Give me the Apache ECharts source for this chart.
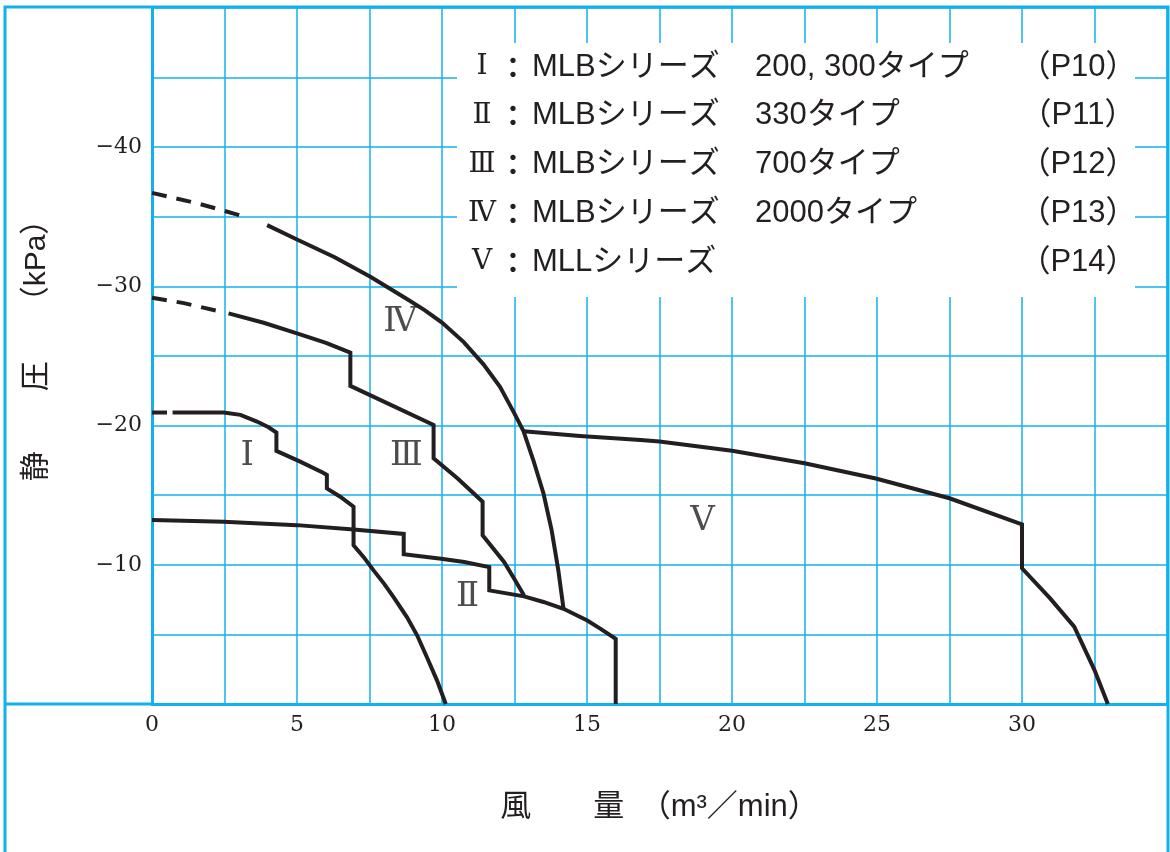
<!DOCTYPE html>
<html><head><meta charset="utf-8">
<script src="https://cdn.jsdelivr.net/npm/echarts@6/dist/echarts.min.js"></script>
<style>html,body{margin:0;padding:0;background:#fff;}#c{width:1170px;height:852px;}</style>
</head><body><div id="c"></div>
<script>
// ---- data (風量 m3/min, 静圧 kPa) ----
const xTickLabels = [0, 5, 10, 15, 20, 25, 30];
const yTickLabels = [-10, -20, -30, -40];

const curveIDashed = [[0, -20.94], [0.52, -20.94]];
const curveI = [[0.71, -20.94], [2.47, -20.94], [3.05, -20.77], [3.62, -20.29], [4.02, -19.88], [4.29, -19.5],
  [4.29, -18.18], [5.11, -17.41], [5.9, -16.61], [6.03, -16.45], [6.03, -15.49], [6.49, -14.89], [6.95, -14.17],
  [6.95, -11.4], [7.3, -10.55], [7.64, -9.6], [8.0, -8.65], [8.33, -7.68], [8.79, -6.24], [9.15, -4.9], [9.48, -3.36], [9.83, -1.68], [10.13, 0]];

const curveII = [[0, -13.21], [2.47, -13.09], [5.0, -12.85], [6.95, -12.53], [8.68, -12.22], [8.68, -10.76],
  [9.97, -10.44], [10.77, -10.2], [11.63, -9.84], [11.63, -8.16], [12.83, -7.73], [13.5, -7.33], [14.19, -6.84], [15.01, -6.0],
  [15.47, -5.4], [15.99, -4.68], [15.99, 0]];

const curveIIIDashed = [[0, -29.19], [1.1, -28.8], [2.24, -28.25]];
const curveIII = [[2.64, -28.06], [3.85, -27.39], [5.0, -26.63], [6.0, -25.95], [6.84, -25.24], [6.84, -22.85],
  [9.71, -20.05], [9.71, -17.65], [10.54, -16.2], [11.4, -14.53], [11.4, -12.12], [12.14, -10.2], [12.49, -9.0],
  [12.83, -7.8]];

const curveIVDashed = [[0, -36.72], [1.6, -35.95], [3.22, -35.0]];
const curveIV = [[3.97, -34.4], [5.0, -33.37], [6.3, -32.1], [7.53, -30.69], [8.79, -29.1], [9.4, -28.3],
  [10.0, -27.4], [10.75, -26.0], [11.43, -24.4], [12.0, -22.78], [12.5, -20.86], [12.81, -19.6], [13.15, -17.51],
  [13.5, -15.12], [13.78, -12.49], [14.01, -9.62], [14.19, -6.84]];

const curveV = [[12.81, -19.6], [14.76, -19.25], [16.85, -18.97], [17.5, -18.85], [20.0, -18.2], [22.5, -17.29],
  [24.96, -16.2], [27.5, -14.78], [30.0, -12.9], [30.0, -9.75], [30.97, -7.59], [31.8, -5.56], [32.5, -2.44], [32.96, 0]];

const curveLabels = [[3.28, -17.77, 'Ⅰ'], [10.88, -7.68, 'Ⅱ'], [8.77, -17.77, 'Ⅲ'], [8.56, -27.46, 'Ⅳ'], [18.98, -13.1, 'Ⅴ']];

const legendNumerals = ['Ⅰ', 'Ⅱ', 'Ⅲ', 'Ⅳ', 'Ⅴ'];
const legendSeriesNames = ['MLBシリーズ', 'MLBシリーズ', 'MLBシリーズ', 'MLBシリーズ', 'MLLシリーズ'];
const legendTypes = ['200, 300タイプ', '330タイプ', '700タイプ', '2000タイプ', ''];
const legendPages = ['（P10）', '（P11）', '（P12）', '（P13）', '（P14）'];

const xName = '風　　量　（m³／min）';
const yName = '静　　圧　　（kPa）';

// ---- style ----
const CYAN = '#12b0ec';
const INK = '#231f20';
const SANS = "'Liberation Sans','Noto Sans CJK JP',sans-serif";
const SERIF = "'DejaVu Serif','Liberation Serif',serif";

const chart = echarts.init(document.getElementById('c'), null, {renderer: 'canvas'});

function lineSeries(name, data, dashed) {
  return {
    name: name, type: 'line', data: data, symbol: 'none', smooth: false, z: 5,
    lineStyle: {color: INK, width: 4, type: dashed ? [15, 10] : 'solid', cap: 'butt', join: 'miter'},
    emphasis: {disabled: true}
  };
}

const legendGraphics = [];
const ly0 = 67, ldy = 48.75;
legendGraphics.push({type: 'rect', z: 10, shape: {x: 457, y: 43, width: 678, height: 254}, style: {fill: '#fff'}});
for (let i = 0; i < legendNumerals.length; i++) {
  const y = ly0 + i * ldy;
  legendGraphics.push({type: 'text', z: 11, x: 482, y: y, style: {text: legendNumerals[i], font: '28px ' + SERIF, fill: INK, align: 'center', verticalAlign: 'middle'}});
  legendGraphics.push({type: 'text', z: 11, x: 513, y: y, style: {text: '：', font: 'bold 28px ' + "'Noto Sans CJK JP'", fill: INK, align: 'center', verticalAlign: 'middle'}});
  legendGraphics.push({type: 'text', z: 11, x: 532, y: y, style: {text: legendSeriesNames[i], font: '31px ' + SANS, fill: INK, align: 'left', verticalAlign: 'middle'}});
  legendGraphics.push({type: 'text', z: 11, x: 755, y: y, style: {text: legendTypes[i], font: '31px ' + SANS, fill: INK, align: 'left', verticalAlign: 'middle'}});
  legendGraphics.push({type: 'text', z: 11, x: 1078, y: y, style: {text: legendPages[i], font: '31px ' + SANS, fill: INK, align: 'center', verticalAlign: 'middle'}});
}

const option = {
  animation: false,
  backgroundColor: '#fff',
  grid: {left: 152, right: 3, top: 8, bottom: 148, containLabel: false},
  xAxis: {
    type: 'value', min: 0, max: 35, interval: 2.5,
    name: xName, nameLocation: 'middle', nameGap: 88,
    nameTextStyle: {fontSize: 31, fontFamily: SANS, color: INK},
    axisLine: {show: true, onZero: true, lineStyle: {color: CYAN, width: 3}},
    axisTick: {show: false},
    axisLabel: {
      margin: 10, fontSize: 22, fontFamily: SERIF, color: INK,
      formatter: v => (xTickLabels.indexOf(v) >= 0 ? String(v) : '')
    },
    splitLine: {show: true, lineStyle: {color: CYAN, width: 1.5}}
  },
  yAxis: {
    type: 'value', min: -50, max: 0, interval: 5, inverse: true,
    name: yName, nameLocation: 'middle', nameGap: 100, nameRotate: 90,
    nameTextStyle: {fontSize: 30, fontFamily: SANS, color: INK, padding: [0, 0, 0, 26]},
    axisLine: {show: true, onZero: false, lineStyle: {color: CYAN, width: 3}},
    axisTick: {show: false},
    axisLabel: {
      margin: 10, fontSize: 22, fontFamily: SERIF, color: INK,
      formatter: v => (yTickLabels.indexOf(v) >= 0 ? '−' + Math.abs(v) : '')
    },
    splitLine: {show: true, lineStyle: {color: CYAN, width: 1.5}}
  },
  series: [
    lineSeries('Ⅰ破線', curveIDashed, true),
    lineSeries('Ⅰ', curveI, false),
    lineSeries('Ⅱ', curveII, false),
    lineSeries('Ⅲ破線', curveIIIDashed, true),
    lineSeries('Ⅲ', curveIII, false),
    lineSeries('Ⅳ破線', curveIVDashed, true),
    lineSeries('Ⅳ', curveIV, false),
    lineSeries('Ⅴ', curveV, false),
    {
      name: 'labels', type: 'scatter', data: curveLabels, symbolSize: 1, z: 6,
      itemStyle: {color: 'rgba(0,0,0,0)'},
      label: {show: true, position: 'inside', formatter: p => p.value[2], fontSize: 34, fontFamily: SERIF, color: INK},
      emphasis: {disabled: true}
    }
  ],
  graphic: legendGraphics
};
chart.setOption(option);

// frame lines (decoration): outer cyan frame and the baseline extension to the frame
const origin = chart.convertToPixel({xAxisIndex: 0, yAxisIndex: 0}, [0, 0]);
chart.setOption({
  graphic: legendGraphics.concat([
    {type: 'rect', z: 12, shape: {x: 5, y: 7, width: 1163, height: 900}, style: {fill: null, stroke: CYAN, lineWidth: 3}},
    {type: 'line', z: 12, shape: {x1: 5, y1: origin[1], x2: origin[0], y2: origin[1]}, style: {stroke: CYAN, lineWidth: 3}}
  ])
});
</script></body></html>
